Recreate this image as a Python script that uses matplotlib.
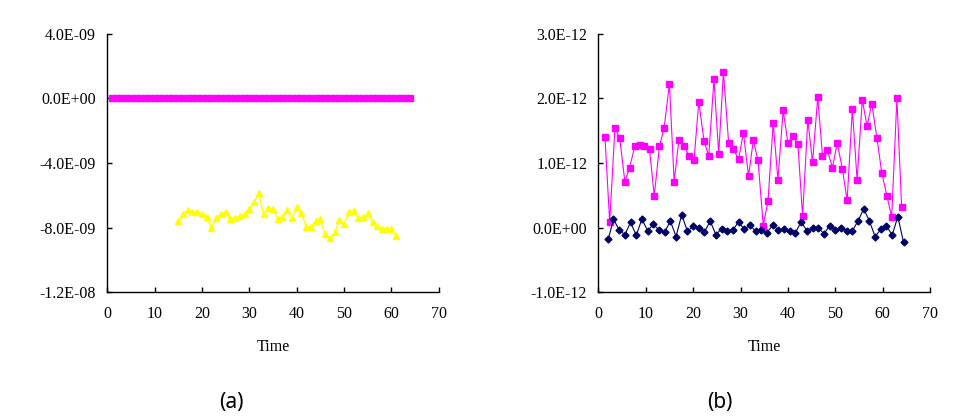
import matplotlib
matplotlib.use('Agg')
import matplotlib.pyplot as plt
from matplotlib.ticker import FuncFormatter

plt.rcParams['font.family'] = ['Liberation Serif', 'DejaVu Serif']

# ---- panel (a) data ----
timeA_pink = list(range(1, 65))
pinkA = [0.0] * 64

timeA_yellow = list(range(15, 62))
yellowA = [-7.61e-9, -7.15e-9, -6.93e-9, -7.01e-9, -7.05e-9, -7.15e-9, -7.34e-9, -8.02e-9,
           -7.40e-9, -7.19e-9, -7.05e-9, -7.50e-9, -7.40e-9, -7.30e-9, -7.19e-9, -6.84e-9,
           -6.41e-9, -5.89e-9, -7.15e-9, -6.78e-9, -6.84e-9, -7.50e-9, -7.34e-9, -6.93e-9,
           -7.40e-9, -6.74e-9, -7.09e-9, -7.96e-9, -7.96e-9, -7.57e-9, -7.50e-9, -8.39e-9,
           -8.68e-9, -8.29e-9, -7.55e-9, -7.77e-9, -7.05e-9, -6.99e-9, -7.40e-9, -7.36e-9,
           -7.13e-9, -7.67e-9, -7.92e-9, -8.08e-9, -8.08e-9, -8.08e-9, -8.54e-9]

yticksA = [-1.2e-8, -8e-9, -4e-9, 0.0, 4e-9]

# ---- panel (b) data ----
timeB_magenta = [1.4, 2.4, 3.5, 4.5, 5.6, 6.6, 7.7, 8.7, 9.7, 10.8, 11.8, 12.9, 13.9, 15.0,
                 16.0, 17.0, 18.1, 19.1, 20.2, 21.2, 22.3, 23.3, 24.4, 25.4, 26.4, 27.5,
                 28.5, 29.6, 30.6, 31.7, 32.7, 33.7, 34.8, 35.8, 36.9, 37.9, 39.0, 40.0,
                 41.0, 42.1, 43.1, 44.2, 45.2, 46.3, 47.3, 48.3, 49.4, 50.4, 51.5, 52.5,
                 53.6, 54.6, 55.7, 56.7, 57.7, 58.8, 59.8, 60.9, 61.9, 63.0, 64.0]
magentaB = [1.40, 0.08, 1.54, 1.39, 0.71, 0.93, 1.26, 1.28, 1.27, 1.21, 0.49, 1.26, 1.55,
            2.23, 0.71, 1.36, 1.27, 1.11, 1.05, 1.95, 1.34, 1.11, 2.30, 1.14, 2.41, 1.31,
            1.21, 1.06, 1.47, 0.80, 1.35, 1.04, 0.03, 0.41, 1.62, 0.74, 1.82, 1.31, 1.42,
            1.30, 0.18, 1.67, 1.01, 2.02, 1.11, 1.20, 0.93, 1.31, 0.91, 0.42, 1.83, 0.74,
            1.98, 1.57, 1.92, 1.38, 0.85, 0.49, 0.16, 2.00, 0.32]
magentaB = [v * 1e-12 for v in magentaB]

timeB_navy = [2.1, 3.2, 4.4, 5.6, 6.8, 8.0, 9.2, 10.4, 11.6, 12.8, 14.0, 15.2, 16.4, 17.6,
              18.8, 20.0, 21.2, 22.4, 23.6, 24.8, 26.0, 27.2, 28.4, 29.6, 30.8, 32.0, 33.2,
              34.4, 35.6, 36.8, 38.0, 39.2, 40.4, 41.6, 42.8, 44.0, 45.2, 46.4, 47.6, 48.8,
              50.0, 51.2, 52.4, 53.6, 54.8, 56.0, 57.2, 58.4, 59.6, 60.8, 62.0, 63.2, 64.4]
navyB = [-0.18, 0.13, -0.04, -0.11, 0.08, -0.12, 0.13, -0.05, 0.05, -0.04, -0.07, 0.10,
         -0.14, 0.20, -0.06, 0.02, -0.01, -0.07, 0.10, -0.11, -0.02, -0.05, -0.04, 0.09,
         -0.03, 0.04, -0.06, -0.04, -0.08, 0.04, -0.04, -0.02, -0.06, -0.08, 0.09, -0.05,
         0.00, 0.00, -0.10, 0.03, -0.04, 0.00, -0.05, -0.05, 0.10, 0.29, 0.10, -0.14,
         -0.03, 0.03, -0.12, 0.17, -0.23]
navyB = [v * 1e-12 for v in navyB]

yticksB = [-1e-12, 0.0, 1e-12, 2e-12, 3e-12]
xticks = [0, 10, 20, 30, 40, 50, 60, 70]


def sciFormat(v, pos):
    return '%.1E' % v


def styleAxis(ax, yticks):
    for side in ['top', 'right']:
        ax.spines[side].set_visible(False)
    for side in ['left', 'bottom']:
        ax.spines[side].set_linewidth(1.0)
    ax.set_xlim(0, 70)
    ax.set_ylim(yticks[0], yticks[-1])
    ax.set_xticks(xticks)
    ax.set_yticks(yticks)
    ax.yaxis.set_major_formatter(FuncFormatter(sciFormat))
    ax.tick_params(axis='both', direction='in', length=3.5, width=1.0, labelsize=11.5)
    ax.tick_params(axis='x', pad=10)
    ax.tick_params(axis='y', pad=8)
    ax.set_xlabel('Time', fontsize=11.5, labelpad=12)


fig = plt.figure(figsize=(9.74, 4.19), dpi=100)

axA = fig.add_axes([0.110, 0.303, 0.3406, 0.616])
axA.plot(timeA_pink, pinkA, color='#ff00ff', lw=3.5, marker='s', ms=4.5, clip_on=False)
axA.plot(timeA_yellow, yellowA, color='#ffff00', lw=1, marker='^', ms=4.5)
styleAxis(axA, yticksA)

axB = fig.add_axes([0.6143, 0.303, 0.3406, 0.616])
axB.plot(timeB_magenta, magentaB, color='#ff00ff', lw=0.8, marker='s', ms=4)
axB.plot(timeB_navy, navyB, color='#000066', lw=0.8, marker='D', ms=3.5)
styleAxis(axB, yticksB)

fig.text(0.238, 0.015, '(a)', fontsize=15, ha='center', va='bottom', family=['Noto Sans', 'DejaVu Sans'])
fig.text(0.739, 0.015, '(b)', fontsize=15, ha='center', va='bottom', family=['Noto Sans', 'DejaVu Sans'])

fig.savefig('out.png', dpi=100)
